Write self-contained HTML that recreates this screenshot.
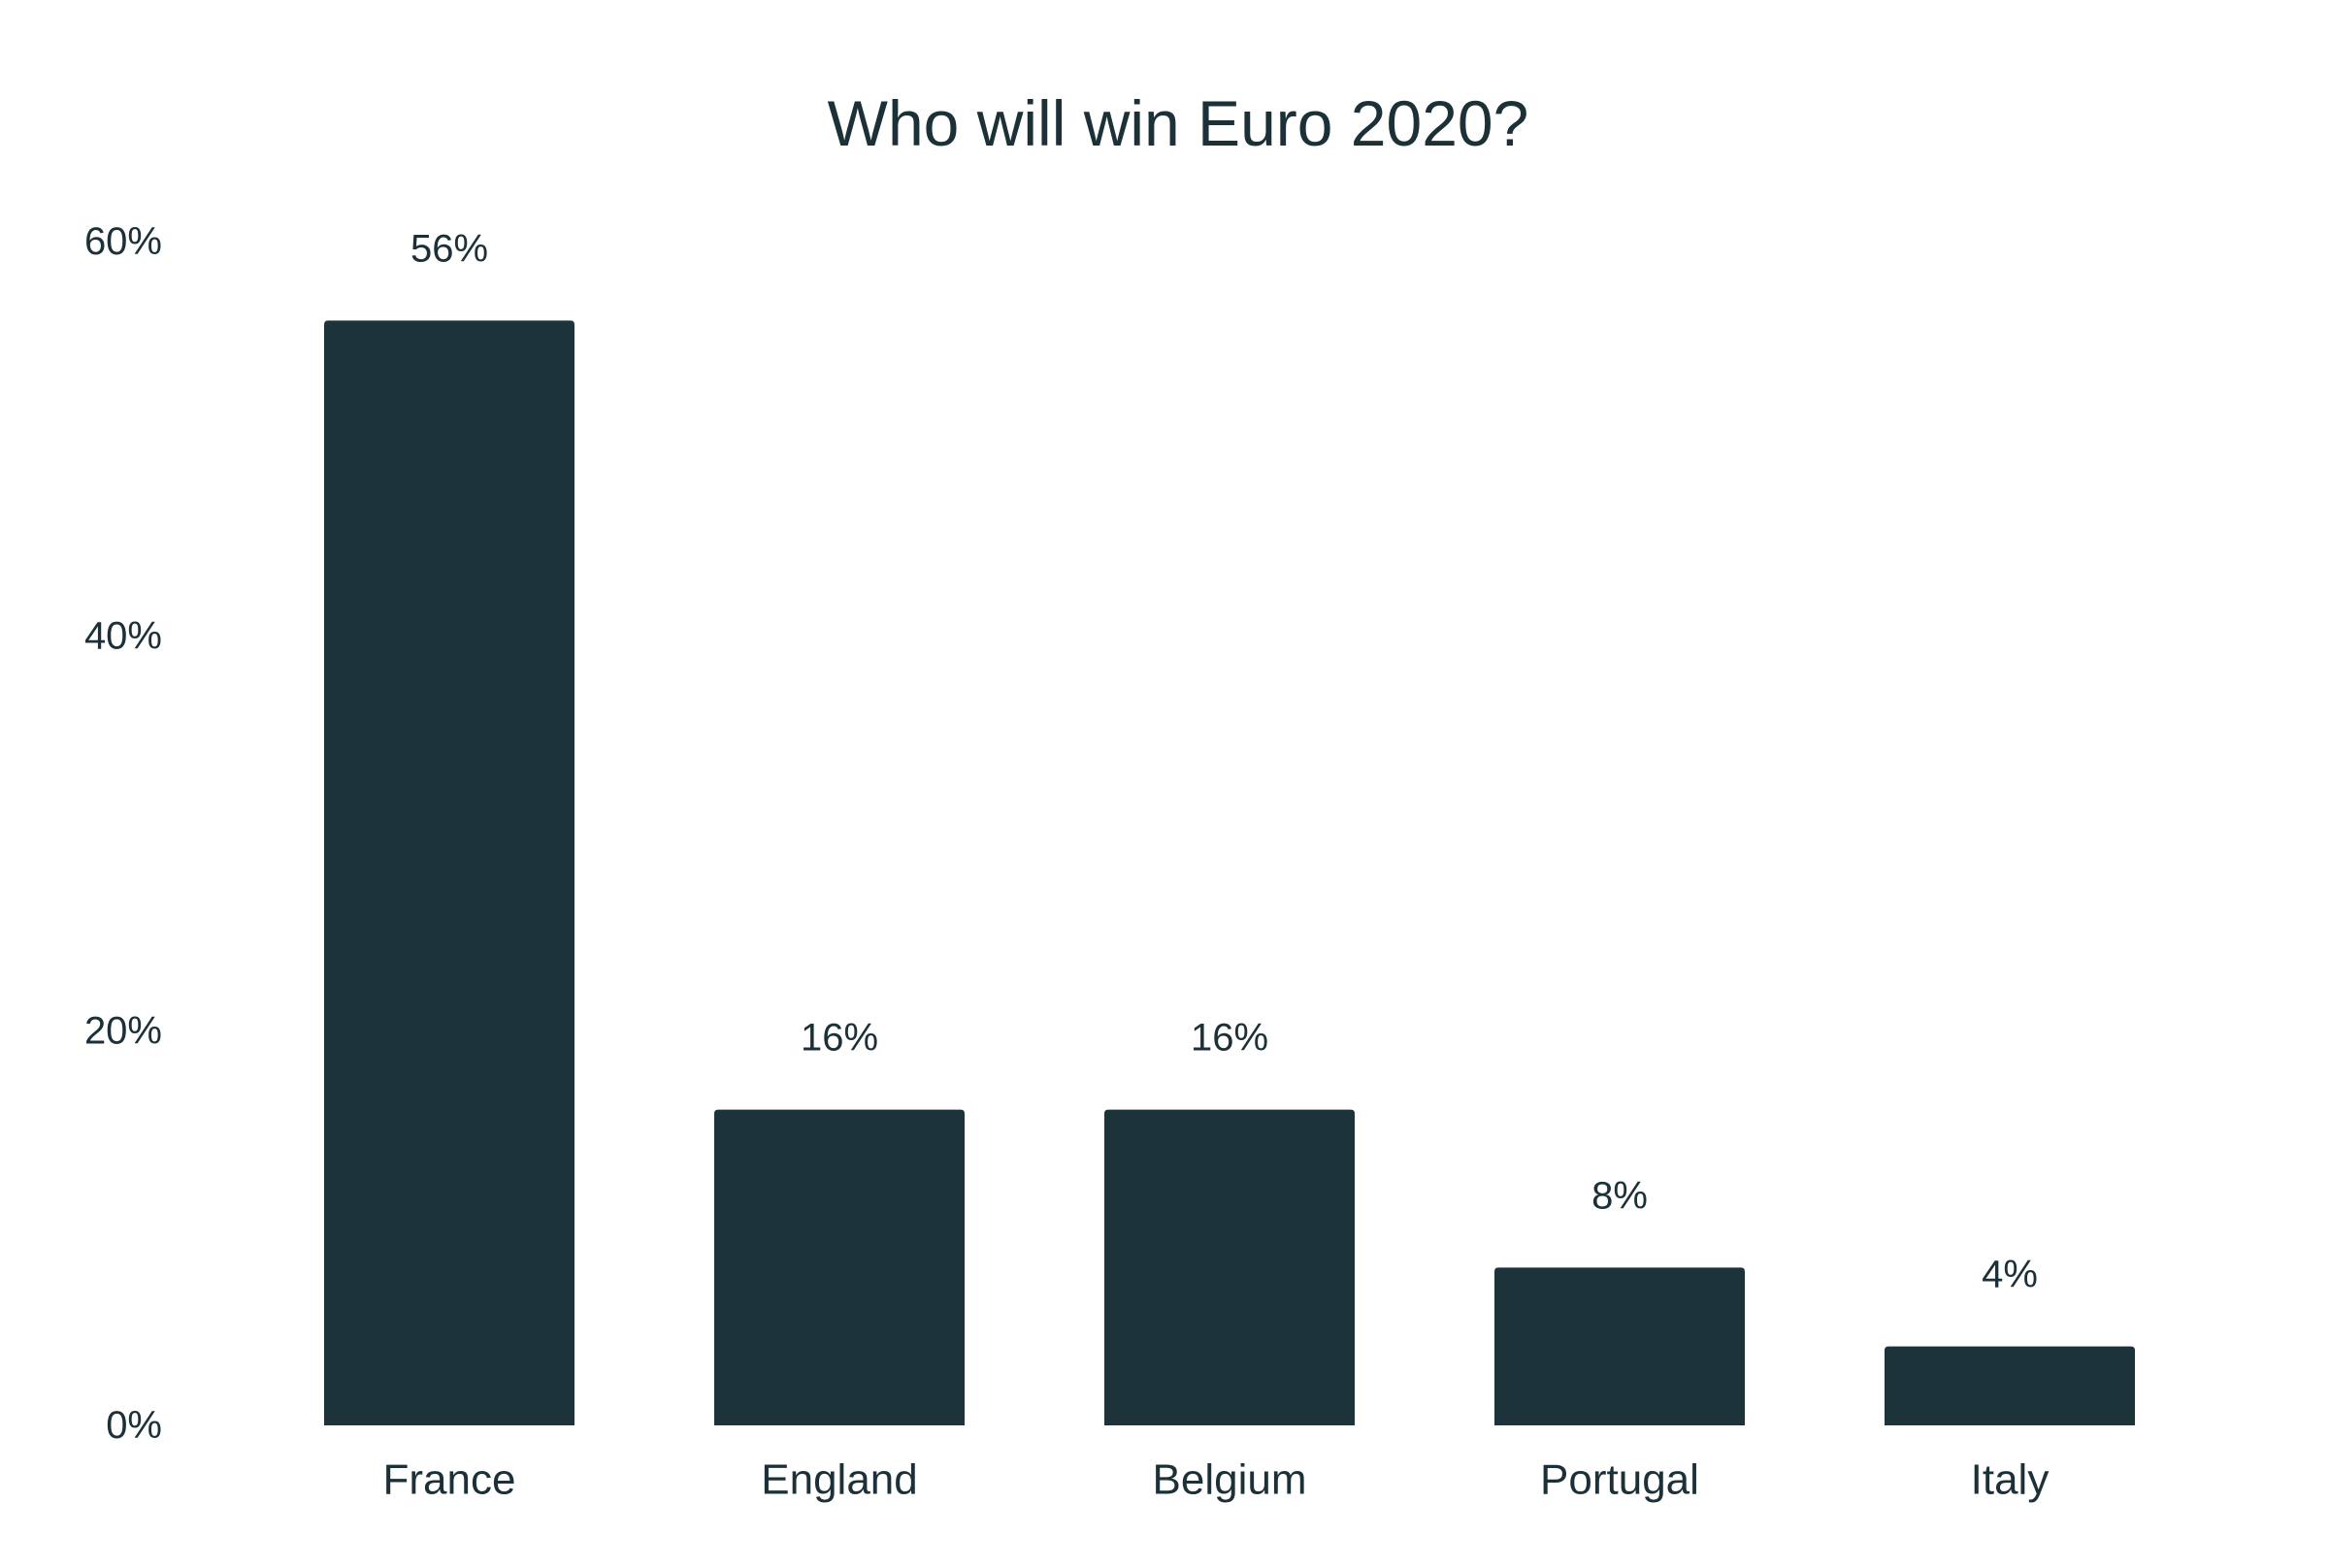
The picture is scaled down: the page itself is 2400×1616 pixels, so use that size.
<!DOCTYPE html>
<html><head><meta charset="utf-8"><style>
html,body{margin:0;padding:0;background:#fff;}
svg{display:block;font-family:"Liberation Sans",sans-serif;}
</style></head><body>
<svg id="chart" width="2400" height="1616" viewBox="0 0 2400 1616" xmlns="http://www.w3.org/2000/svg">
<text x="1214" y="127" text-anchor="middle" dominant-baseline="central" font-size="66" fill="#1c3038">Who will win Euro 2020?</text>
<g id="yaxis"></g>
<g id="bars"></g>
</svg>
<script>
const categories = ["France","England","Belgium","Portugal","Italy"];
const values = [56,16,16,8,4];
const yTicks = [0,20,40,60];
const yTickLabels = ["0%","20%","40%","60%"];
const valueLabels = ["56%","16%","16%","8%","4%"];

const NS="http://www.w3.org/2000/svg";
const y0=1469, yTop=249, yMax=60;
function y(v){return y0-(v/yMax)*(y0-yTop);}
const firstCenter=463, step=402, barW=258;
function x(i){return firstCenter+i*step;}
const ya=document.getElementById('yaxis');
yTicks.forEach((t,i)=>{
  const tx=document.createElementNS(NS,'text');
  
  
  tx.setAttribute('x',167);tx.setAttribute('y',y(t));
  tx.setAttribute('text-anchor','end');tx.setAttribute('dominant-baseline','central');
  tx.setAttribute('font-size','40');tx.setAttribute('fill','#1c3038');
  tx.textContent=yTickLabels[i];ya.appendChild(tx);
});
const bg=document.getElementById('bars');
categories.forEach((c,i)=>{
  const top=y(values[i]);
  const p=document.createElementNS(NS,'path');
  
  
  const l=x(i)-barW/2,r=x(i)+barW/2,rr=4;
  p.setAttribute('d',`M${l},${y0} L${l},${top+rr} Q${l},${top} ${l+rr},${top} L${r-rr},${top} Q${r},${top} ${r},${top+rr} L${r},${y0} Z`);
  p.setAttribute('fill','#1d333a');bg.appendChild(p);
  const v=document.createElementNS(NS,'text');
  
  
  v.setAttribute('x',x(i));v.setAttribute('y',top-74);
  v.setAttribute('text-anchor','middle');v.setAttribute('dominant-baseline','central');
  v.setAttribute('font-size','40');v.setAttribute('fill','#1c3038');
  v.textContent=valueLabels[i];bg.appendChild(v);
  const cl=document.createElementNS(NS,'text');
  
  
  cl.setAttribute('x',x(i));cl.setAttribute('y',1525);
  cl.setAttribute('text-anchor','middle');cl.setAttribute('dominant-baseline','central');
  cl.setAttribute('font-size','44');cl.setAttribute('fill','#1c3038');
  cl.textContent=c;bg.appendChild(cl);
});
</script>
</body></html>
